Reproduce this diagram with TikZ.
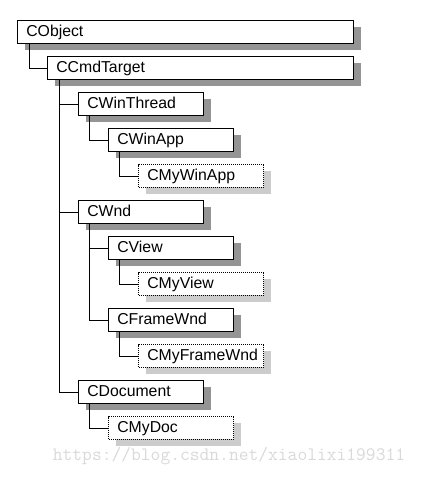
\documentclass[tikz,border=0pt]{standalone}
\usepackage{fontspec}
\setmainfont{Liberation Sans}
\usetikzlibrary{positioning,shadows}

\begin{document}
\begin{tikzpicture}[
                x=1pt,y=-1pt,
                box/.style={draw,line width=1pt,fill=white,anchor=west,
                    text width=#1,minimum height=22.7pt,
                    inner xsep=8.5pt,inner ysep=0pt,
                    text height=11.5pt,text depth=2.9pt,align=left,
                    font=\fontsize{15.8}{15.8}\selectfont},
                box/.default=108pt,
                cls/.style={box=#1,drop shadow={shadow xshift=7pt,shadow yshift=-6.5pt,opacity=1,fill=black!42}},
                cls/.default=108pt,
                mine/.style={box,densely dotted,drop shadow={shadow xshift=7pt,shadow yshift=-6.5pt,opacity=1,fill=black!20}},
                wm/.style={text=black!15,font=\ttfamily\fontsize{19}{19}\selectfont}
            ]
                \useasboundingbox (0,0) rectangle (422,477);

                \node[cls=319pt] (cobject)    at (17.3,32)  {CObject};
                \node[cls=289pt] (ccmdtarget) at (47.3,68)  {CCmdTarget};
                \node[cls]   (cwinthread)  at (78.3,104)  {CWinThread};
                \node[cls]   (cwinapp)     at (108.3,140) {CWinApp};
                \node[mine]  (cmywinapp)   at (138.3,176) {CMyWinApp};
                \node[cls]   (cwnd)        at (78.3,212)  {CWnd};
                \node[cls]   (cview)       at (108.3,248) {CView};
                \node[mine]  (cmyview)     at (138.3,284) {CMyView};
                \node[cls]   (cframewnd)   at (108.3,320) {CFrameWnd};
                \node[mine]  (cmyframewnd) at (138.3,356) {CMyFrameWnd};
                \node[cls]   (cdocument)   at (78.3,392)  {CDocument};
                \node[mine]  (cmydoc)      at (108.3,428) {CMyDoc};

                \node[wm] (mark) at (229,456) {https://blog.csdn.net/xiaolixi199311};

                \begin{scope}[line width=0.9pt]
                    \draw ([xshift=12pt]cobject.south west)    |- (ccmdtarget.west);
                    \draw ([xshift=12pt]ccmdtarget.south west) |- (cwinthread.west);
                    \draw ([xshift=12pt]ccmdtarget.south west) |- (cwnd.west);
                    \draw ([xshift=12pt]ccmdtarget.south west) |- (cdocument.west);
                    \draw ([xshift=11pt]cwinthread.south west) |- (cwinapp.west);
                    \draw ([xshift=11pt]cwinapp.south west)    |- (cmywinapp.west);
                    \draw ([xshift=11pt]cwnd.south west)       |- (cview.west);
                    \draw ([xshift=11pt]cwnd.south west)       |- (cframewnd.west);
                    \draw ([xshift=11pt]cview.south west)      |- (cmyview.west);
                    \draw ([xshift=11pt]cframewnd.south west)  |- (cmyframewnd.west);
                    \draw ([xshift=11pt]cdocument.south west)  |- (cmydoc.west);
                \end{scope}
            \end{tikzpicture}
\end{document}
